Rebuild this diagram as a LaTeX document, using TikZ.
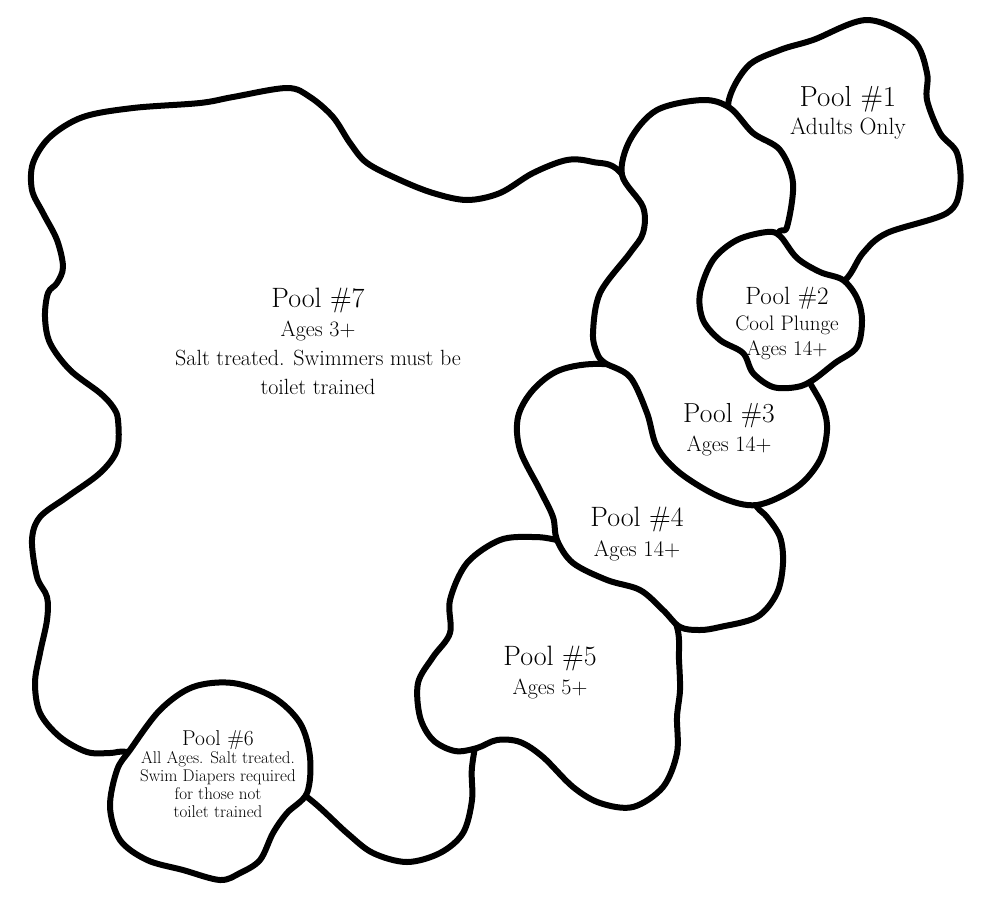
\documentclass[tikz,border=0pt]{standalone}
\usepackage{tikz}

\begin{document}
\begin{tikzpicture}[
    x=1pt, y=-1pt,
    pool/.style={draw=black, fill=white, line width=6pt, line join=round},
    poolname/.style={anchor=north, inner sep=0pt, align=center, font=\fontsize{22}{29}\selectfont},
    smallname/.style={anchor=north, inner sep=0pt, align=center, font=\fontsize{17}{18}\selectfont}
]
    \useasboundingbox (0,0) rectangle (1000,908);

    % big pool, drawn first so the others sit on top
    \draw[pool] plot[smooth cycle, tension=0.55] coordinates {
        (33,163) (50,137) (83,117) (133,108) (200,103) (233,97) (287,88) (310,97)
        (333,117) (350,143) (367,163) (400,180) (433,193) (467,200) (500,193)
        (533,173) (567,160) (593,162) (620,172)
        (655,230) (630,300) (610,360) (585,430) (590,500) (540,600) (495,680) (480,725)
        (472,767) (472,800) (463,833) (440,853) (407,862) (373,853) (347,833) (307,797)
        (250,760) (170,762)
        (127,752) (110,753) (87,752) (60,737) (40,713) (35,683) (40,653) (47,620)
        (47,597) (37,577) (32,540) (40,517) (67,497) (100,473) (117,450) (118,420)
        (113,407) (100,393) (70,370) (50,343) (45,317) (48,293) (57,283) (63,267)
        (57,240) (43,213) (32,190)};

    % pool 1
    \draw[pool] plot[smooth cycle, tension=0.55] coordinates {
        (728,107) (747,67) (780,50) (813,40) (867,20) (913,40) (927,73) (927,100)
        (940,133) (957,153) (960,187) (947,213) (887,233) (863,253) (845,280)
        (812,296) (768,220) (748,150)};

    % pool 5
    \draw[pool] plot[smooth cycle, tension=0.55] coordinates {
        (533,537) (557,540) (612,553) (657,587)
        (677,627) (679,660) (680,690) (677,717) (677,753) (663,787) (633,807)
        (600,803) (573,787) (543,757) (520,742) (497,740) (477,748) (455,751)
        (433,740) (420,717) (418,683) (433,657) (450,633) (450,600) (467,563) (500,540)};

    % pool 4
    \draw[pool] plot[smooth cycle, tension=0.55] coordinates {
        (560,370) (602,364) (655,375) (700,430) (735,478)
        (757,507) (767,517) (780,537) (783,563) (777,593) (757,617) (720,627)
        (700,630) (680,627) (663,610) (640,590) (607,580) (573,563) (557,540)
        (553,517) (540,490) (520,450) (518,417) (533,390)};

    % pool 3 (the long one behind pool 2)
    \draw[pool] plot[smooth cycle, tension=0.55] coordinates {
        (657,110) (703,100) (730,108) (753,133) (780,150) (793,183) (787,227)
        (778,236) (780,300) (795,355)
        (810,383) (823,407) (827,430) (820,460) (797,487) (757,505) (720,497)
        (680,473) (657,447) (647,413) (630,377) (605,363) (597,353) (593,333)
        (600,293) (630,253) (643,233) (643,207) (622,175) (630,140)};

    % pool 2
    \draw[pool] plot[smooth cycle, tension=0.55] coordinates {
        (737,240) (767,232) (780,236) (797,258) (820,272) (843,280) (857,298)
        (862,320) (857,347) (835,363) (813,380) (797,387) (773,387) (753,373)
        (743,353) (720,340) (703,320) (700,293) (713,260)};

    % pool 6
    \draw[pool] plot[smooth cycle, tension=0.55] coordinates {
        (130,750) (160,710) (193,687) (233,683) (273,697) (300,723) (310,757)
        (307,793) (287,813) (273,833) (260,860) (240,873) (220,880) (183,870)
        (147,860) (120,840) (110,807) (117,770)};

    % labels
    \node[poolname] (lbl7) at (318,288) {{\fontsize{28}{29}\selectfont Pool \#7}\\Ages 3+\\Salt treated. Swimmers must be\\toilet trained};
    \node[poolname, font=\fontsize{23.5}{28}\selectfont] (lbl1) at (848,86) {{\fontsize{29}{28}\selectfont Pool \#1}\\Adults Only};
    \node[poolname, font=\fontsize{21}{25.5}\selectfont] (lbl2) at (787,287) {{\fontsize{25}{25.5}\selectfont Pool \#2}\\Cool Plunge\\Ages 14+};
    \node[poolname] (lbl3) at (729,403) {{\fontsize{27.5}{29}\selectfont Pool \#3}\\Ages 14+};
    \node[poolname, font=\fontsize{22.4}{30}\selectfont] (lbl4) at (637,507) {{\fontsize{28}{30}\selectfont Pool \#4}\\Ages 14+};
    \node[poolname] (lbl5) at (550,646) {{\fontsize{28}{29}\selectfont Pool \#5}\\Ages 5+};
    \node[smallname] (lbl6) at (218,730) {{\fontsize{21.5}{18}\selectfont Pool \#6}\\All Ages. Salt treated.\\Swim Diapers required\\for those not\\toilet trained};
\end{tikzpicture}
\end{document}
